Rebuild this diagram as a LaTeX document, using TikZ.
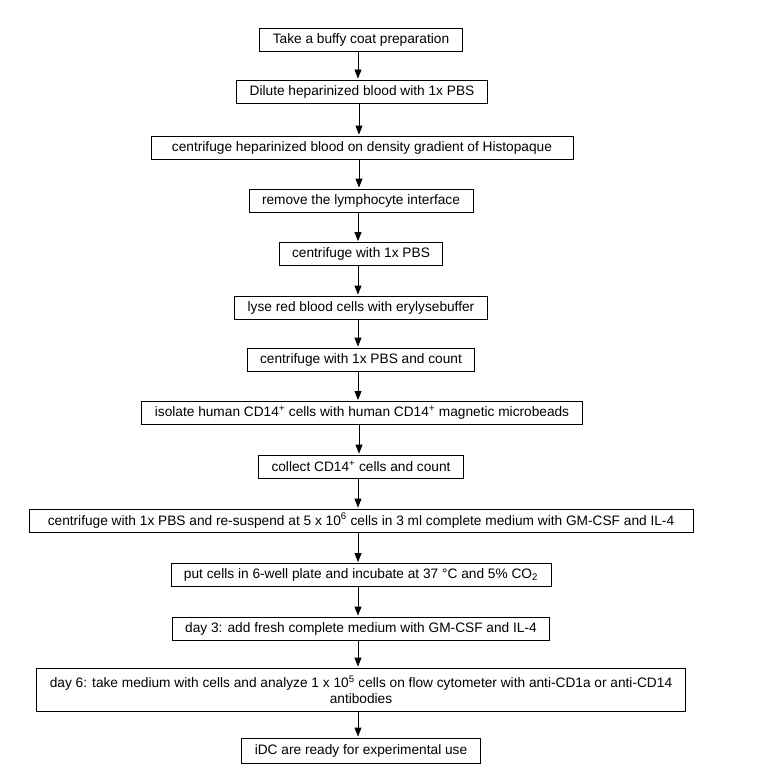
\documentclass[tikz,border=0pt]{standalone}
\usepackage{fontspec}
\setmainfont{Liberation Sans}
\usetikzlibrary{arrows.meta}
\newcommand{\stepfont}{\fontsize{13.7}{16}\selectfont}
\tikzset{
  stepbox/.style={draw, line width=0.9pt, inner xsep=13pt, inner ysep=0pt,
    minimum height=23pt, font=\stepfont, align=center, fill=white},
  flowarrow/.style={line width=0.9pt, -{Triangle[width=7pt,length=9pt]}, shorten >=1pt}
}
\begin{document}
\begin{tikzpicture}[x=1pt,y=-1pt]
\useasboundingbox (0,0) rectangle (756,776);
\fill[white] (0,0) rectangle (756,776);
\node[stepbox] (n1) at (361,39.5) {Take a buffy coat preparation};
\node[stepbox] (n2) at (362,91.5) {Dilute heparinized blood with 1x PBS};
\node[stepbox, minimum width=422pt] (n3) at (362,147.5) {centrifuge heparinized blood on density gradient of Histopaque};
\node[stepbox] (n4) at (361,200.5) {remove the lymphocyte interface};
\node[stepbox] (n5) at (361,254) {centrifuge with 1x PBS};
\node[stepbox] (n6) at (361,307.5) {lyse red blood cells with erylysebuffer};
\node[stepbox] (n7) at (361,359.5) {centrifuge with 1x PBS and count};
\node[stepbox] (n8) at (362,413) {isolate human CD14\textsuperscript{+} cells with human CD14\textsuperscript{+} magnetic microbeads};
\node[stepbox] (n9) at (361,466.5) {collect CD14\textsuperscript{+} cells and count};
\node[stepbox, minimum width=664pt] (n10) at (361,520.5) {centrifuge with 1x PBS and re-suspend at 5 x 10\textsuperscript{6} cells in 3 ml complete medium with GM-CSF and IL-4};
\node[stepbox] (n11) at (361,575) {put cells in 6-well plate and incubate at 37 °C and 5\% CO\textsubscript{2}};
\node[stepbox] (n12) at (361,628.5) {day 3: add fresh complete medium with GM-CSF and IL-4};
\node[stepbox, minimum height=43pt] (n13) at (361,689.5) {day 6: take medium with cells and analyze 1 x 10\textsuperscript{5} cells on flow cytometer with anti-CD1a or anti-CD14\\antibodies};
\node[stepbox, minimum height=25pt] (n14) at (361,750.5) {iDC are ready for experimental use};
\foreach \a/\b in {n1/n2,n2/n3,n3/n4,n4/n5,n5/n6,n6/n7,n7/n8,n8/n9,n9/n10,n10/n11,n11/n12,n12/n13,n13/n14}
  \draw[flowarrow] ([xshift=-3pt]\a.south) -- ([xshift=-3pt]\a.south |- \b.north);
\end{tikzpicture}
\end{document}
